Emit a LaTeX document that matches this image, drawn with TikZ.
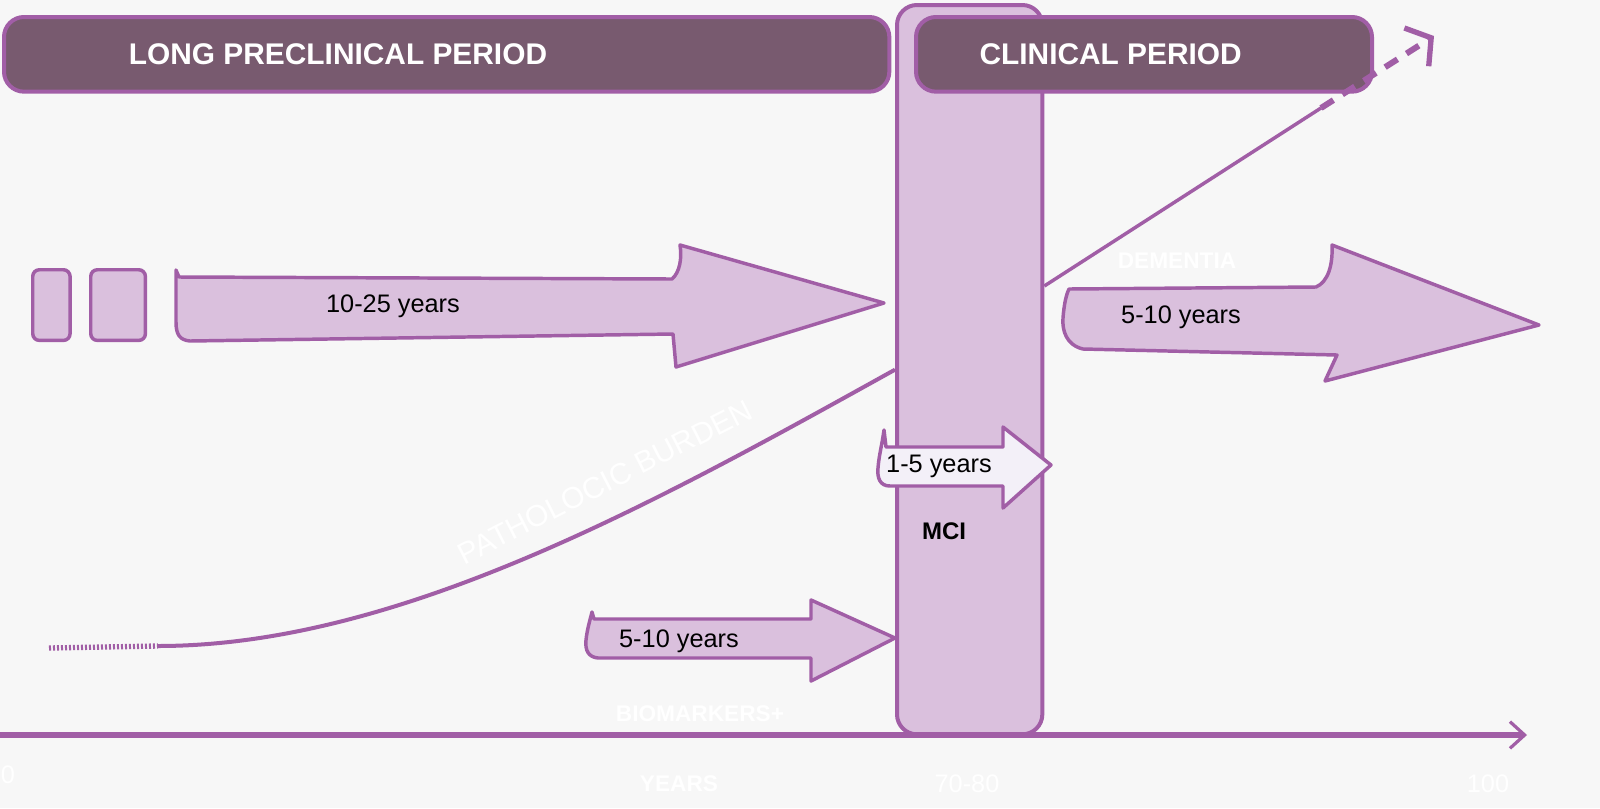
\documentclass[tikz,border=0pt]{standalone}
\usepackage{fontspec}
\setmainfont{Liberation Sans}
\usetikzlibrary{arrows.meta,positioning}
\definecolor{bggray}{RGB}{247,247,247}
\definecolor{periodplum}{RGB}{120,90,111}
\definecolor{edgepurple}{RGB}{161,94,166}
\definecolor{mcililac}{RGB}{218,192,221}
\definecolor{paleblush}{RGB}{243,240,248}

\tikzset{
  periodbox/.style={draw=edgepurple, fill=periodplum, line width=3pt,
    rounded corners=15pt, anchor=north west, inner sep=0pt},
  headtext/.style={text=white, font=\fontsize{22.4}{26}\selectfont\bfseries,
    anchor=west, inner sep=0pt},
  blockarrow/.style={draw=edgepurple, fill=mcililac, line width=2.6pt, line join=round},
  stubbox/.style={draw=edgepurple, fill=mcililac, line width=2.6pt,
    rounded corners=5pt, anchor=north west, inner sep=0pt, minimum height=53pt},
  spantext/.style={font=\fontsize{19}{22}\selectfont, inner sep=0pt},
  ghosttext/.style={text=white, font=\fontsize{17}{20}\selectfont\bfseries, inner sep=0pt},
  ticktext/.style={text=white, font=\fontsize{19}{22}\selectfont, inner sep=0pt},
}

\begin{document}
\begin{tikzpicture}[x=0.75pt, y=-0.75pt]
  \fill[bggray] (0,0) rectangle (1600,808);
  \useasboundingbox (0,0) rectangle (1600,808);

  % period headers and the MCI band
  \node[periodbox, minimum width=664pt, minimum height=56pt] (pre) at (2,15) {};
  \node[periodbox, fill=mcililac, minimum width=109pt, minimum height=547pt] (mci) at (895,3) {};
  \node[periodbox, minimum width=342pt, minimum height=56pt] (clin) at (914,15) {};
  \node[headtext, right=95pt of pre.west] (pretext) {LONG PRECLINICAL PERIOD};
  \node[headtext, right=49pt of clin.west] (clintext) {CLINICAL PERIOD};

  % the two short blocks before the long arrow
  \node[stubbox, minimum width=28pt] (stubA) at (31,268) {};
  \node[stubbox, minimum width=41pt] (stubB) at (89,268) {};

  % block arrows
  \draw[blockarrow] (176,270) -- (179,277) -- (672,279)
    .. controls (680,272) and (682,258) .. (680,245) -- (884,303) -- (676,367)
    -- (673,334) -- (190,341) .. controls (180,340) and (176,335) .. (176,322) -- cycle;
  \draw[blockarrow] (1069,289) -- (1316,287)
    .. controls (1328,282) and (1333,265) .. (1332,245) -- (1539,325) -- (1325,381)
    -- (1337,355) -- (1083,349) .. controls (1066,345) and (1062,330) .. (1063,318)
    .. controls (1064,305) and (1066,295) .. (1069,289) -- cycle;
  \draw[blockarrow] (592,612) -- (594,619) -- (811,619) -- (811,600) -- (mci.west |- 0,638)
    -- (811,681) -- (811,658) -- (598,658) .. controls (588,657) and (585,650) .. (586,640)
    .. controls (587,630) and (590,620) .. (592,612) -- cycle;
  \draw[blockarrow, fill=paleblush] (884,430) -- (886,447) -- (1003,447) -- (1003,427)
    -- (1051,465) -- (1003,508) -- (1003,486) -- (890,486)
    .. controls (880,486) and (877,478) .. (878,468)
    .. controls (879,455) and (882,445) .. (884,430) -- cycle;

  \node[spantext] (spanlong) at (393,306) {10-25 years};
  \node[spantext] (spandem) at (1181,317) {5-10 years};
  \node[spantext] (spanbio) at (679,641) {5-10 years};
  \node[spantext] (spanmci) at (939,466) {1-5 years};
  \node[font=\fontsize{18}{21}\selectfont\bfseries, inner sep=0pt] (mcitext) at (944,531) {MCI};

  % pathologic burden curve
  \coordinate (dotstart) at (49,648);
  \coordinate (curvestart) at (158,646);
  \draw[edgepurple, line width=4pt, dash pattern=on 1.5pt off 1.5pt] (dotstart) -- (curvestart);
  \draw[edgepurple, line width=3pt] (curvestart) .. controls (400,646) and (660,500) .. (mci.west);
  \node[ticktext, font=\fontsize{22.5}{26}\selectfont, rotate=27] (burden) at (605,482) {PATHOLOCIC BURDEN};

  % dementia trend
  \coordinate (dashstart) at (1321,108);
  \coordinate (demtip) at (1434,36);
  \draw[edgepurple, line width=2.6pt] (mci.east |- 0,286) -- (dashstart);
  \draw[edgepurple, line width=4.5pt, dash pattern=on 11pt off 8pt,
    -{Straight Barb[length=13pt, width=34pt, line width=4pt]}] (dashstart) -- (demtip);
  \node[ghosttext] (dementia) at (1177,261) {DEMENTIA};

  % time axis
  \coordinate (axstart) at (0,735);
  \coordinate (axend) at (1527,735);
  \draw[edgepurple, line width=3.8pt, -{Straight Barb[length=11pt, width=20pt, line width=2.4pt]}] (axstart) -- (axend);
  \node[ghosttext] (biomarkers) at (700,714) {BIOMARKERS+};
  \node[ticktext] (tick0) at (8,775) {0};
  \node[ghosttext] (years) at (679,784) {YEARS};
  \node[ticktext] (tick7080) at (967,784) {70-80};
  \node[ticktext] (tick100) at (1488,784) {100};
\end{tikzpicture}
\end{document}
